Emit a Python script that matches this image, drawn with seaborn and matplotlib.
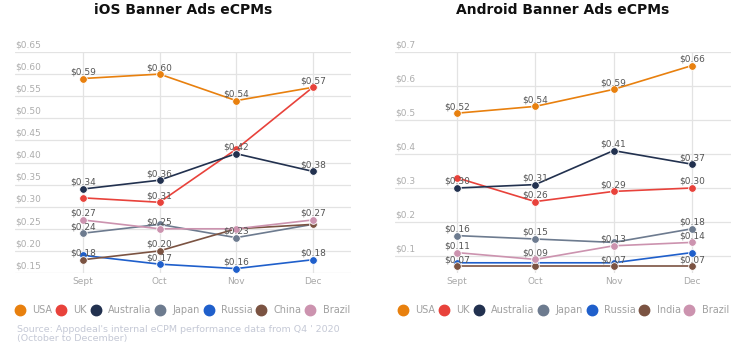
import matplotlib
matplotlib.use("Agg")
import matplotlib.pyplot as plt
from matplotlib.lines import Line2D
import numpy as np
import pandas as pd
import seaborn as sns

sns.set_theme(style="white")
plt.rcParams["font.family"] = ["DejaVu Sans"]

months = ["Sept", "Oct", "Nov", "Dec"]

# iOS banner eCPMs
ios_countries = ["USA", "UK", "Australia", "Japan", "Russia", "China", "Brazil"]
ios_usa = [0.59, 0.60, 0.54, 0.57]
ios_uk = [0.32, 0.31, 0.43, 0.57]
ios_australia = [0.34, 0.36, 0.42, 0.38]
ios_japan = [0.24, 0.26, 0.23, 0.26]
ios_russia = [0.19, 0.17, 0.16, 0.18]
ios_china = [0.18, 0.20, 0.25, 0.26]
ios_brazil = [0.27, 0.25, 0.25, 0.27]
ios_labeled = [
    ["USA", "Australia", "Brazil", "Japan", "China"],
    ["USA", "Australia", "UK", "Brazil", "China", "Russia"],
    ["USA", "Australia", "Japan", "Russia"],
    ["UK", "Australia", "Brazil", "Russia"],
]

# Android banner eCPMs
and_countries = ["USA", "UK", "Australia", "Japan", "Russia", "India", "Brazil"]
and_usa = [0.52, 0.54, 0.59, 0.66]
and_uk = [0.33, 0.26, 0.29, 0.30]
and_australia = [0.30, 0.31, 0.41, 0.37]
and_japan = [0.16, 0.15, 0.14, 0.18]
and_russia = [0.08, 0.08, 0.08, 0.11]
and_india = [0.07, 0.07, 0.07, 0.07]
and_brazil = [0.11, 0.09, 0.13, 0.14]
and_labeled = [
    ["USA", "Australia", "Japan", "Brazil", "India"],
    ["USA", "Australia", "UK", "Japan", "Brazil"],
    ["USA", "Australia", "UK", "Brazil", "India"],
    ["USA", "Australia", "UK", "Japan", "Brazil", "India"],
]

ios_ticks = [0.15, 0.20, 0.25, 0.30, 0.35, 0.40, 0.45, 0.50, 0.55, 0.60, 0.65]
and_ticks = [0.1, 0.2, 0.3, 0.4, 0.5, 0.6, 0.7]

COLORS = {
    "USA": "#E8800E", "UK": "#E8423B", "Australia": "#22314F",
    "Japan": "#6D7B8F", "Russia": "#1F5FCB", "China": "#7B5342",
    "India": "#7B5342", "Brazil": "#CC93AF",
}


def to_long(countries, series):
    rows = []
    for c, vals in zip(countries, series):
        for i, v in enumerate(vals):
            rows.append({"country": c, "month": i, "value": v})
    return pd.DataFrame(rows)


ios_df = to_long(ios_countries, [ios_usa, ios_uk, ios_australia, ios_japan,
                                 ios_russia, ios_china, ios_brazil])
and_df = to_long(and_countries, [and_usa, and_uk, and_australia, and_japan,
                                 and_russia, and_india, and_brazil])

fig = plt.figure(figsize=(7.49, 3.56), dpi=100)
ax1 = fig.add_axes([15 / 749, 1 - 273 / 356, 336 / 749, 221 / 356])
ax2 = fig.add_axes([395 / 749, 1 - 273 / 356, 336 / 749, 221 / 356])


def draw(ax, df, countries, ticks, ylim, xlim, labeled, fmt, title, leg_x):
    pal = {c: COLORS[c] for c in countries}
    sns.lineplot(data=df, x="month", y="value", hue="country", hue_order=countries,
                 palette=pal, marker="o", markersize=5.5, markeredgecolor="white",
                 markeredgewidth=0.6, linewidth=1.2, ax=ax, legend=False)
    ax.set_xlim(*xlim)
    ax.set_ylim(*ylim)
    ax.set_xticks(range(len(months)))
    ax.set_xticklabels(months, fontsize=6.5, color="#a8a8a8")
    ax.tick_params(axis="x", length=0, pad=3)
    ax.set_yticks(ticks)
    ax.set_yticklabels([])
    ax.tick_params(axis="y", length=0)
    ax.set_xlabel("")
    ax.set_ylabel("")
    for s in ax.spines.values():
        s.set_visible(False)
    for t in ticks:
        ax.axhline(t, color="#e3e3e3", linewidth=0.9, zorder=0)
        ax.annotate(fmt(t), xy=(0, t), xycoords=("axes fraction", "data"),
                    xytext=(0, 2), textcoords="offset points",
                    fontsize=6.5, color="#adadad", ha="left", va="bottom")
    for i in range(len(months)):
        ax.axvline(i, ymax=(ticks[-1] - ylim[0]) / (ylim[1] - ylim[0]),
                   color="#e3e3e3", linewidth=0.9, zorder=0)
    for i, names in enumerate(labeled):
        for c in names:
            v = df[(df.country == c) & (df.month == i)].value.iloc[0]
            ax.annotate(f"${v:.2f}", xy=(i, v), xytext=(0, 1.5),
                        textcoords="offset points", fontsize=6.5,
                        color="#555555", ha="center", va="bottom", zorder=5)
    handles = [Line2D([], [], marker="o", linestyle="none", markersize=7.5,
                      markerfacecolor=COLORS[c], markeredgecolor=COLORS[c])
               for c in countries]
    leg = ax.legend(handles, countries, loc="center left",
                    bbox_to_anchor=(leg_x, -0.167), ncol=7, frameon=False,
                    fontsize=7, handletextpad=0.75, columnspacing=0.42,
                    handlelength=1.0, borderaxespad=0, borderpad=0)
    for t in leg.get_texts():
        t.set_color("#a0a0a0")
    ax.set_title(title, fontsize=10, fontweight="bold", color="#111111",
                 pad=27)


draw(ax1, ios_df, ios_countries, ios_ticks, (0.15, 0.65), (-0.887, 3.5),
     ios_labeled, lambda t: f"${t:.2f}", "iOS Banner Ads eCPMs", -0.0)
draw(ax2, and_df, and_countries, and_ticks, (0.05, 0.70), (-0.79, 3.5),
     and_labeled, lambda t: f"${t:.1f}", "Android Banner Ads eCPMs", 0.009)

fig.text(17 / 749, 1 - 334 / 356,
         "Source: Appodeal's internal eCPM performance data from Q4 ' 2020\n(October to December)",
         fontsize=6.8, color="#c5c9d6", ha="left", va="center", linespacing=0.95)

fig.savefig("out.png", dpi=100)
